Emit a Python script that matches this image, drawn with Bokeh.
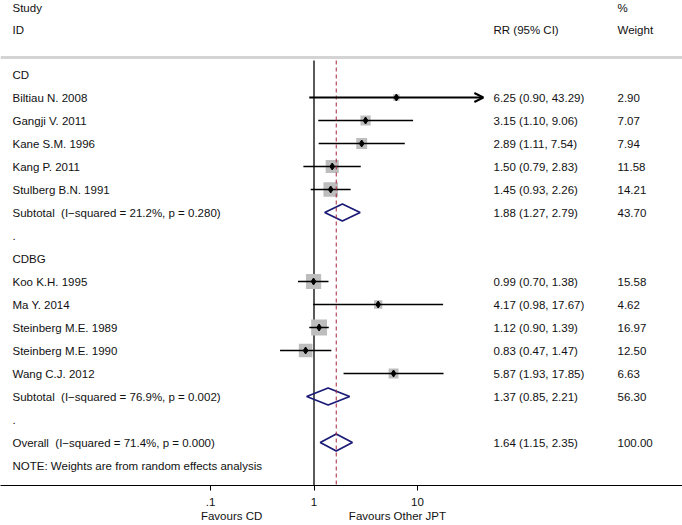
from bokeh.plotting import figure
from bokeh.models import Range1d, FixedTicker, Span, ColumnDataSource, Arrow, OpenHead, LogAxis
from bokeh.embed import file_html
from bokeh.resources import INLINE
from bokeh.core.properties import value

# ---------------- data ----------------
cd_studies = ["Biltiau N. 2008", "Gangji V. 2011", "Kane S.M. 1996", "Kang P. 2011", "Stulberg B.N. 1991"]
cd_rr = [6.25, 3.15, 2.89, 1.50, 1.45]
cd_lo = [0.90, 1.10, 1.11, 0.79, 0.93]
cd_hi = [43.29, 9.06, 7.54, 2.83, 2.26]
cd_w = [2.90, 7.07, 7.94, 11.58, 14.21]

cdbg_studies = ["Koo K.H. 1995", "Ma Y. 2014", "Steinberg M.E. 1989", "Steinberg M.E. 1990", "Wang C.J. 2012"]
cdbg_rr = [0.99, 4.17, 1.12, 0.83, 5.87]
cdbg_lo = [0.70, 0.98, 0.90, 0.47, 1.93]
cdbg_hi = [1.38, 17.67, 1.39, 1.47, 17.85]
cdbg_w = [15.58, 4.62, 16.97, 12.50, 6.63]

pooled_names = ["CD", "CDBG", "Overall"]
pooled_rr = [1.88, 1.37, 1.64]
pooled_lo = [1.27, 0.85, 1.15]
pooled_hi = [2.79, 2.21, 2.35]
pooled_w = [43.70, 56.30, 100.00]
pooled_i2 = ["21.2", "76.9", "71.4"]
pooled_p = ["0.280", "0.002", "0.000"]

tick_values = [0.1, 1, 10]
tick_labels = [".1", "1", "10"]
favours_values = [0.16, 6.4]
favours_labels = ["Favours CD", "Favours Other JPT"]
note_text = "NOTE: Weights are from random effects analysis"
arrow_limit = 40.0   # CIs reaching beyond this get an arrow head

# ---------------- layout helpers ----------------
FIG_W, FIG_H = 682, 525
FRAME_H = 485
X1_PX = 313.5      # pixel of RR = 1
DEC_PX = 103.5     # pixels per decade
ROW_PX = 23.0
ROW0_PX = 74.0


def px_to_x(px):
    return 10 ** ((px - X1_PX) / DEC_PX)


def py_to_row(py):
    return (py - ROW0_PX) / ROW_PX


y_top = py_to_row(0)
y_bot = py_to_row(FRAME_H)

LEFT_X = px_to_x(12)
RR_X = px_to_x(493)
W_X = px_to_x(617)

p = figure(width=FIG_W, height=FIG_H, x_axis_type="log",
           x_range=Range1d(px_to_x(0), px_to_x(FIG_W)),
           y_range=Range1d(y_bot, y_top),
           output_backend="svg", toolbar_location=None,
           min_border_left=0, min_border_right=0, min_border_top=0,
           min_border_bottom=FIG_H - FRAME_H)
p.outline_line_color = None
p.grid.visible = False
p.yaxis.visible = False
p.background_fill_color = "white"
p.border_fill_color = "white"

# ---------------- rows ----------------
def pooled_label(name, k):
    return f"{name} \u00a0(I\u2212squared = {pooled_i2[k]}%, p = {pooled_p[k]})"


rows = []  # (label, rr, lo, hi, w, kind)
rows.append(("CD", None, None, None, None, "head"))
for s, r, l, h, w in zip(cd_studies, cd_rr, cd_lo, cd_hi, cd_w):
    rows.append((s, r, l, h, w, "study"))
rows.append((pooled_label("Subtotal", 0), pooled_rr[0], pooled_lo[0], pooled_hi[0], pooled_w[0], "pool"))
rows.append((".", None, None, None, None, "head"))
rows.append(("CDBG", None, None, None, None, "head"))
for s, r, l, h, w in zip(cdbg_studies, cdbg_rr, cdbg_lo, cdbg_hi, cdbg_w):
    rows.append((s, r, l, h, w, "study"))
rows.append((pooled_label("Subtotal", 1), pooled_rr[1], pooled_lo[1], pooled_hi[1], pooled_w[1], "pool"))
rows.append((".", None, None, None, None, "head"))
rows.append((pooled_label("Overall", 2), pooled_rr[2], pooled_lo[2], pooled_hi[2], pooled_w[2], "pool"))
rows.append((note_text, None, None, None, None, "head"))

# separator line and reference lines
p.add_layout(Span(location=py_to_row(57), dimension="width",
                  line_color="#d4d4d4", line_width=3))
p.segment(x0=[1], y0=[py_to_row(60)], x1=[1], y1=[y_bot],
          line_color="black", line_width=1.3)

# studies
st_y, st_rr, st_lo, st_hi, st_size = [], [], [], [], []
for i, (lab, r, l, h, w, kind) in enumerate(rows):
    if kind == "study":
        st_y.append(i); st_rr.append(r); st_lo.append(l); st_hi.append(h)
        st_size.append(3.85 * w ** 0.5)

p.scatter(x=st_rr, y=st_y, size=st_size, marker="square",
          fill_color="#bdbdbd", line_color=None)
for y, r, l, h in zip(st_y, st_rr, st_lo, st_hi):
    if h > arrow_limit:
        p.add_layout(Arrow(end=OpenHead(size=9, line_width=2, line_color="black"),
                           x_start=l, y_start=y, x_end=h, y_end=y,
                           line_width=2, line_color="black"))
    else:
        p.segment(x0=[l], y0=[y], x1=[h], y1=[y], line_color="black", line_width=1.6)
p.scatter(x=st_rr, y=st_y, size=7, marker="diamond", fill_color="black", line_color="black")

# pooled diamonds
dh = 0.37
xs, ys = [], []
for i, (lab, r, l, h, w, kind) in enumerate(rows):
    if kind == "pool":
        xs.append([l, r, h, r])
        ys.append([i, i - dh, i, i + dh])
p.patches(xs=xs, ys=ys, fill_color=None, line_color="#1b1b78", line_width=1.8)

# overall estimate dashed line
p.segment(x0=[pooled_rr[2]], y0=[py_to_row(60)], x1=[pooled_rr[2]], y1=[y_bot],
          line_color="#a8243a", line_width=1, line_dash="4 3")

# ---------------- texts ----------------
FONT = value("Liberation Sans")
FS = "11.5px"
tx, ty, tt = [], [], []
for i, (lab, r, l, h, w, kind) in enumerate(rows):
    tx.append(LEFT_X); ty.append(i); tt.append(lab)
    if r is not None:
        tx.append(RR_X); ty.append(i); tt.append(f"{r:.2f} ({l:.2f}, {h:.2f})")
        tx.append(W_X); ty.append(i); tt.append(f"{w:.2f}")
# headers
hdr_row1 = py_to_row(7)
hdr_row2 = py_to_row(29)
tx += [LEFT_X, LEFT_X, RR_X, W_X, W_X]
ty += [hdr_row1, hdr_row2, hdr_row2, hdr_row1, hdr_row2]
tt += ["Study", "ID", "RR (95% CI)", "%", "Weight"]

src = ColumnDataSource(dict(x=tx, y=ty, text=tt))
p.text(x="x", y="y", text="text", source=src, text_font=FONT, text_font_size=FS,
       text_baseline="middle", text_align="left", text_color="#111111")

# ---------------- axes ----------------
ax = p.xaxis[0]
ax.ticker = FixedTicker(ticks=tick_values)
ax.major_label_overrides = {v: t for v, t in zip(tick_values, tick_labels)}
ax.minor_tick_line_color = None
ax.major_tick_in = 0
ax.major_tick_out = 5
ax.major_tick_line_color = "black"
ax.axis_line_color = "black"
ax.axis_line_width = 1
ax.major_label_standoff = 7
ax.major_label_text_font = "Liberation Sans"
ax.major_label_text_font_size = FS
ax.major_label_text_color = "#111111"

fav = LogAxis(ticker=FixedTicker(ticks=favours_values),
              major_label_overrides={v: t for v, t in zip(favours_values, favours_labels)})
fav.axis_line_color = None
fav.major_tick_line_color = None
fav.minor_tick_line_color = None
fav.major_tick_in = 0
fav.major_tick_out = 0
fav.major_label_standoff = 1
fav.major_label_text_font = "Liberation Sans"
fav.major_label_text_font_size = FS
fav.major_label_text_color = "#111111"
p.add_layout(fav, "below")

open("out.html", "w").write(file_html(p, INLINE))
